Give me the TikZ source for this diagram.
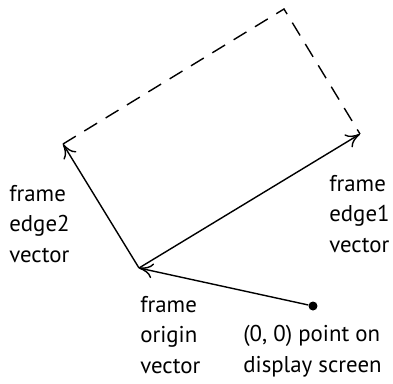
\documentclass[tikz,border=0pt]{standalone}
\usepackage{fontspec}
\setmainfont{PT Sans}
\usepackage{tikz}
\usetikzlibrary{arrows.meta,positioning,calc}

\begin{document}
\begin{tikzpicture}[
  x=0.02cm, y=-0.02cm,
  font=\fontsize{13}{17.6}\selectfont,
  arrow/.style={-{To[length=2.8mm,width=3mm]},thick},
  frameedge/.style={thick,dash pattern=on 3mm off 2mm},
  lbl/.style={align=left,inner sep=0pt,anchor=west},
  pt/.style={circle,fill,inner sep=0pt,minimum size=1.8mm}
]
  \useasboundingbox (0,0) rectangle (393,383);

  % points of the frame
  \node[pt] (scr) at (313,306) {};
  \coordinate (org) at (139,268);
  \coordinate (e1) at (360,134);
  \coordinate (e2) at (63,144);
  \coordinate (far) at (284,9);

  \draw[arrow] (scr) -- (org);
  \draw[arrow] (org) -- (e1);
  \draw[arrow] (org) -- (e2);
  \draw[frameedge] (e2) -- (far) -- (e1);

  % labels
  \node[lbl] (edgetwo) at (9,224) {frame\\edge2\\vector};
  \node[lbl] (edgeone) at (329,214) {frame\\edge1\\vector};
  \node[lbl] (orig) at (140,335) {frame\\origin\\vector};
  \node[lbl] (screen) at (243,351) {(0, 0) point on\\display screen};
\end{tikzpicture}
\end{document}
